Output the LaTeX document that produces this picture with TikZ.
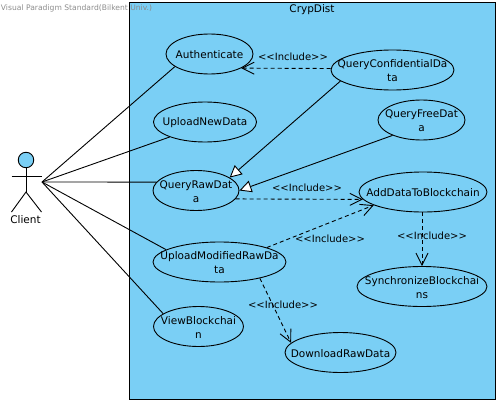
\documentclass[tikz,border=0pt]{standalone}
\usepackage{fontspec}
\setmainfont{DejaVu Sans}
\usetikzlibrary{arrows.meta, shapes.geometric}
\definecolor{vpblue}{RGB}{122,207,245}
\newcommand{\inctext}{<{}<Include>{}>}

\begin{document}
\begin{tikzpicture}[
            x=1pt, y=-1pt,
            every node/.style={font=\fontsize{10.5}{14}\selectfont},
            usecase/.style={draw, ellipse, inner sep=0pt, minimum height=40pt},
            casetext/.style={align=center, inner sep=0pt, yshift=-1pt},
            assoc/.style={line width=0.9pt},
            generalize/.style={line width=0.9pt, -{Triangle[open, fill=white, length=12pt, width=12pt]}},
            include/.style={line width=0.9pt, dash pattern=on 4pt off 3pt, -{Straight Barb[length=12pt, width=12pt]}},
            inclabel/.style={font=\fontsize{10}{14}\selectfont},
            line width=0.9pt]

        \useasboundingbox (0,0) rectangle (500,404);

        \draw[fill=vpblue, line width=1pt] (129.5,2.5) rectangle (495,399);
        \node[text=black!45, font=\fontsize{7.6}{10}\selectfont, inner sep=0pt, anchor=west] (watermark) at (0.5,8.5) {Visual Paradigm Standard(Bilkent Univ.)};
        \node (title) at (312,10) {CrypDist};

        % actor
        \node[draw, circle, fill=vpblue, inner sep=0pt, minimum size=15.5pt] (head) at (26,160) {};
        \coordinate (hip) at (26,192);
        \coordinate (armL) at (11.5,176);
        \coordinate (armR) at (41.5,176);
        \coordinate (footL) at (11.5,212);
        \coordinate (footR) at (41.5,212);
        \coordinate (hub) at (42,182);
        \draw (head.south) -- (hip);
        \draw (armL) -- (armR);
        \draw (footL) -- (hip) -- (footR);
        \node (client) at (25.5,219.5) {Client};

        % use cases
        \node[usecase, minimum width=87pt, label={[casetext]center:Authenticate}] (auth) at (209.5,54) {};
        \node[usecase, minimum width=103pt, label={[casetext]center:UploadNewData}] (upnew) at (205,122) {};
        \node[usecase, minimum width=86pt, label={[casetext]center:QueryRawDat\\a}] (qraw) at (196,190.5) {};
        \node[usecase, minimum width=123pt, label={[casetext]center:QueryConfidentialDa\\ta}] (qconf) at (392.5,70) {};
        \node[usecase, minimum width=87pt, label={[casetext]center:QueryFreeDat\\a}] (qfree) at (421.5,120) {};
        \node[usecase, minimum width=128pt, label={[casetext]center:AddDataToBlockchain}] (adddata) at (423,192) {};
        \node[usecase, minimum width=130pt, label={[casetext]center:SynchronizeBlockchai\\ns}] (sync) at (422,286.5) {};
        \node[usecase, minimum width=133pt, label={[casetext]center:UploadModifiedRawDa\\ta}] (upmod) at (219.5,262) {};
        \node[usecase, minimum width=90pt, label={[casetext]center:ViewBlockchai\\n}] (view) at (198.5,326.5) {};
        \node[usecase, minimum width=111pt, label={[casetext]center:DownloadRawData}] (download) at (340.5,352.5) {};

        % associations
        \draw[assoc] (hub) -- (auth.200.6);
        \draw[assoc] (hub) -- (upnew.203);
        \draw[assoc] (hub) -- (qraw.168.4);
        \draw[assoc] (hub) -- (upmod.167);
        \draw[assoc] (hub) -- (view.160.7);

        % generalizations
        \draw[generalize] (qconf.192.7) -- (qraw.21.3);
        \draw[generalize] (qfree.208) -- (qraw.east);

        % includes
        \draw[include] (qconf.west |- 0,68.5) -- (auth.-24.9);
        \draw[include] (qraw.-12.7) -- (adddata.187);
        \draw[include] (upmod.17.3) -- (adddata.195.5);
        \draw[include] (upmod.-22.8) -- (download.169.5);
        \draw[include] (adddata.south -| sync.north) -- (sync.north);

        \node[inclabel] (inc1) at (293,57) {\inctext};
        \node[inclabel] (inc2) at (307,188) {\inctext};
        \node[inclabel] (inc3) at (330,239) {\inctext};
        \node[inclabel] (inc4) at (283,305) {\inctext};
        \node[inclabel] (inc5) at (432,236) {\inctext};
    \end{tikzpicture}
\end{document}
